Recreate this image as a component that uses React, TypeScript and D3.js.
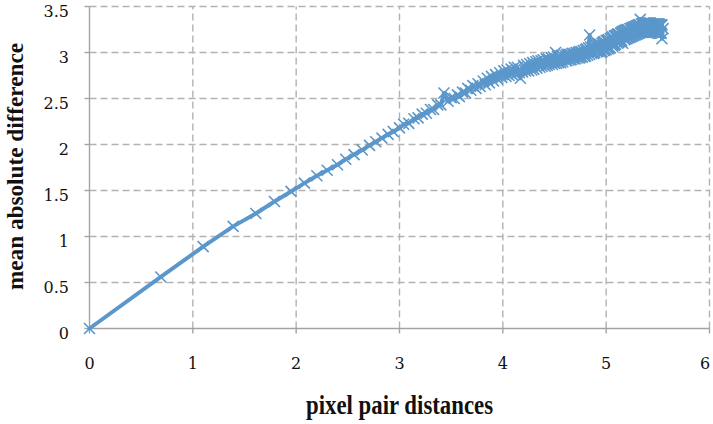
import React from 'react';
import * as d3 from 'd3';

// axis ticks
const xTicks = [0, 1, 2, 3, 4, 5, 6];
const yTicks = [0, 0.5, 1, 1.5, 2, 2.5, 3, 3.5];

// pixel pair distances (log scale values)
const distances = [
  0, 0.69, 1.10, 1.39, 1.61, 1.79, 1.95, 2.08, 2.20, 2.30,
  2.40, 2.48, 2.56, 2.64, 2.71, 2.77, 2.83, 2.89, 2.94, 3.00,
  3.04, 3.09, 3.14, 3.18, 3.22, 3.26, 3.30, 3.33, 3.37, 3.40,
  3.43, 3.47, 3.50, 3.53, 3.56, 3.58, 3.61, 3.64, 3.66, 3.69,
  3.71, 3.74, 3.76, 3.78, 3.81, 3.83, 3.85, 3.87, 3.89, 3.91,
  3.93, 3.95, 3.97, 3.99, 4.01, 4.03, 4.04, 4.06, 4.08, 4.09,
  4.11, 4.13, 4.14, 4.16, 4.17, 4.19, 4.20, 4.22, 4.23, 4.25,
  4.26, 4.28, 4.29, 4.30, 4.32, 4.33, 4.34, 4.36, 4.37, 4.38,
  4.39, 4.41, 4.42, 4.43, 4.44, 4.45, 4.47, 4.48, 4.49, 4.50,
  4.51, 4.52, 4.53, 4.54, 4.55, 4.56, 4.57, 4.58, 4.60, 4.61,
  4.62, 4.62, 4.63, 4.64, 4.65, 4.66, 4.67, 4.68, 4.69, 4.70,
  4.71, 4.72, 4.73, 4.74, 4.74, 4.75, 4.76, 4.77, 4.78, 4.79,
  4.80, 4.80, 4.81, 4.82, 4.83, 4.84, 4.84, 4.85, 4.86, 4.87,
  4.88, 4.88, 4.89, 4.90, 4.91, 4.91, 4.92, 4.93, 4.93, 4.94,
  4.95, 4.96, 4.96, 4.97, 4.98, 4.98, 4.99, 5.00, 5.00, 5.01,
  5.02, 5.02, 5.03, 5.04, 5.04, 5.05, 5.06, 5.06, 5.07, 5.08,
  5.08, 5.09, 5.09, 5.10, 5.11, 5.11, 5.12, 5.12, 5.13, 5.14,
  5.14, 5.15, 5.15, 5.16, 5.16, 5.17, 5.18, 5.18, 5.19, 5.19,
  5.20, 5.20, 5.21, 5.21, 5.22, 5.23, 5.23, 5.24, 5.24, 5.25,
  5.25, 5.26, 5.26, 5.27, 5.27, 5.28, 5.28, 5.29, 5.29, 5.30,
  5.30, 5.31, 5.31, 5.32, 5.32, 5.33, 5.33, 5.34, 5.34, 5.35,
  5.35, 5.36, 5.36, 5.37, 5.37, 5.38, 5.38, 5.38, 5.39, 5.39,
  5.40, 5.40, 5.41, 5.41, 5.42, 5.42, 5.42, 5.43, 5.43, 5.44,
  5.44, 5.45, 5.45, 5.46, 5.46, 5.46, 5.47, 5.47, 5.48, 5.48,
  5.48, 5.49, 5.49, 5.50, 5.50, 5.51, 5.51, 5.51, 5.52, 5.52,
  5.53, 5.53, 5.53, 5.54, 5.54, 5.55,
];

// mean absolute difference
const meanDiff = [
  0, 0.56, 0.89, 1.11, 1.25, 1.38, 1.49, 1.58, 1.66, 1.72,
  1.78, 1.84, 1.89, 1.94, 1.99, 2.03, 2.07, 2.11, 2.14, 2.18,
  2.22, 2.23, 2.28, 2.29, 2.33, 2.34, 2.38, 2.38, 2.43, 2.43,
  2.56, 2.47, 2.51, 2.50, 2.54, 2.52, 2.57, 2.56, 2.61, 2.59,
  2.64, 2.61, 2.66, 2.63, 2.69, 2.65, 2.72, 2.67, 2.74, 2.69,
  2.76, 2.71, 2.78, 2.73, 2.80, 2.74, 2.81, 2.75, 2.82, 2.76,
  2.84, 2.77, 2.84, 2.78, 2.72, 2.79, 2.86, 2.80, 2.87, 2.80,
  2.88, 2.81, 2.89, 2.82, 2.90, 2.83, 2.91, 2.84, 2.91, 2.85,
  2.92, 2.85, 2.93, 2.86, 2.93, 2.87, 2.94, 2.87, 2.95, 2.88,
  3.00, 2.88, 2.96, 2.89, 2.96, 2.89, 2.97, 2.90, 2.97, 2.91,
  2.98, 2.91, 2.98, 2.92, 2.98, 2.92, 2.99, 2.93, 2.99, 2.93,
  3.00, 2.94, 3.00, 2.94, 3.01, 2.95, 3.01, 2.95, 3.02, 2.96,
  3.03, 2.96, 3.04, 2.97, 3.05, 3.19, 2.98, 3.06, 2.99, 3.07,
  2.99, 3.07, 3.00, 3.08, 3.01, 3.09, 3.01, 3.09, 3.02, 3.09,
  3.00, 3.10, 3.01, 3.11, 3.02, 3.12, 3.03, 3.13, 3.03, 3.13,
  3.04, 3.14, 3.05, 3.15, 3.05, 3.16, 3.07, 3.17, 3.08, 3.18,
  3.08, 3.18, 3.09, 3.19, 3.10, 3.20, 3.11, 3.20, 3.12, 3.21,
  3.12, 3.22, 3.13, 3.23, 3.10, 3.23, 3.14, 3.24, 3.15, 3.24,
  3.15, 3.25, 3.16, 3.25, 3.16, 3.26, 3.17, 3.26, 3.17, 3.27,
  3.18, 3.27, 3.18, 3.28, 3.19, 3.28, 3.19, 3.29, 3.20, 3.29,
  3.20, 3.30, 3.21, 3.30, 3.21, 3.36, 3.22, 3.31, 3.22, 3.31,
  3.22, 3.32, 3.22, 3.32, 3.23, 3.32, 3.23, 3.32, 3.23, 3.32,
  3.23, 3.32, 3.23, 3.32, 3.23, 3.32, 3.22, 3.32, 3.22, 3.31,
  3.22, 3.31, 3.22, 3.31, 3.22, 3.31, 3.22, 3.31, 3.22, 3.31,
  3.22, 3.31, 3.22, 3.31, 3.21, 3.31, 3.21, 3.31, 3.21, 3.30,
  3.21, 3.30, 3.21, 3.30, 3.15, 3.26,
];

const blue = '#5b97cb';
const gridColor = '#b2b2b2';
const axisColor = '#a3a3a3';

export default function App() {
  const width = 713, height = 424;

  const x = d3.scaleLinear().domain([0, 6]).range([89.5, 709.5]);
  const y = d3.scaleLinear().domain([0, 3.5]).range([328.5, 6.5]);

  const points: [number, number][] = distances.map((d, i) => [d, meanDiff[i]]);

  const line = d3.line<[number, number]>()
    .x(d => x(d[0]))
    .y(d => y(d[1]));

  const cross = 'M-5.5,-5.5L5.5,5.5M-5.5,5.5L5.5,-5.5';

  return (
    <svg width={width} height={height}
      style={{ position: 'absolute', left: 0, top: 0, background: '#fff' }}>
      {/* gridlines */}
      {yTicks.filter(t => t > 0).map(t => (
        <line key={'gy' + t} x1={x(0)} x2={x(6)} y1={y(t)} y2={y(t)}
          stroke={gridColor} strokeWidth={1.4} strokeDasharray="7,4" />
      ))}
      {xTicks.filter(t => t > 0).map(t => (
        <line key={'gx' + t} x1={x(t)} x2={x(t)} y1={y(0)} y2={y(3.5)}
          stroke={gridColor} strokeWidth={1.4} strokeDasharray="7,4" />
      ))}

      {/* axes */}
      <line x1={x(0)} x2={x(0)} y1={y(0)} y2={y(3.5)} stroke={axisColor} strokeWidth={1.4} />
      <line x1={x(0)} x2={x(6)} y1={y(0)} y2={y(0)} stroke={axisColor} strokeWidth={1.4} />
      {xTicks.map(t => (
        <line key={'tx' + t} x1={x(t)} x2={x(t)} y1={y(0)} y2={y(0) + 5}
          stroke={axisColor} strokeWidth={1.4} />
      ))}
      {yTicks.map(t => (
        <line key={'ty' + t} x1={x(0) - 5} x2={x(0)} y1={y(t)} y2={y(t)}
          stroke={axisColor} strokeWidth={1.4} />
      ))}

      {/* tick labels */}
      {yTicks.map(t => (
        <text key={'ly' + t} x={69} y={y(t) + 10} textAnchor="end"
          fontFamily="DejaVu Serif" fontSize={16} fill="#111">{String(t)}</text>
      ))}
      {xTicks.map(t => (
        <text key={'lx' + t} x={Math.min(x(t), 705)} y={369} textAnchor="middle"
          fontFamily="DejaVu Serif" fontSize={16} fill="#111">{String(t)}</text>
      ))}

      {/* series */}
      <path d={line(points) || ''} fill="none" stroke={blue} strokeWidth={4}
        strokeLinejoin="round" strokeLinecap="round" />
      {points.map((p, i) => (
        <path key={'m' + i} d={cross} transform={`translate(${x(p[0])},${y(p[1])})`}
          fill="none" stroke={blue} strokeWidth={1.6} />
      ))}

      {/* axis titles */}
      <g transform="translate(399.5,414) scale(1,1.35)">
        <text x={0} y={0} textAnchor="middle" fontFamily="Liberation Serif" fontWeight="bold"
          fontSize={20} fill="#111" textLength={187} lengthAdjust="spacingAndGlyphs">
          pixel pair distances
        </text>
      </g>
      <text transform="translate(23,166.5) rotate(-90)" x={0} y={0} textAnchor="middle"
        fontFamily="Liberation Serif" fontWeight="bold" fontSize={24} fill="#111"
        textLength={247} lengthAdjust="spacingAndGlyphs">
        mean absolute difference
      </text>
    </svg>
  );
}
